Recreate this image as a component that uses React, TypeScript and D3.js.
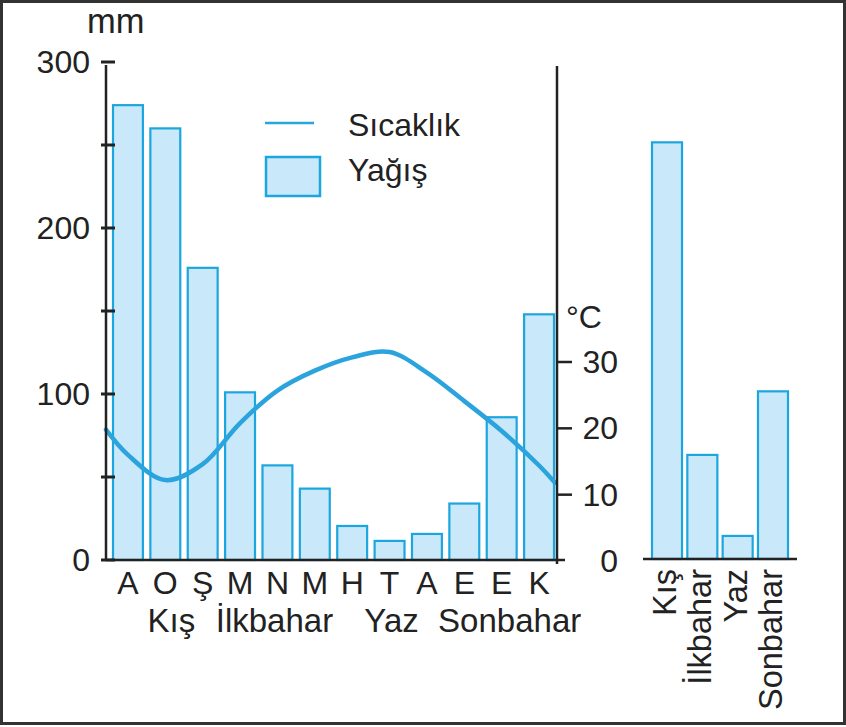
import React from "react";
import * as d3 from "d3";

// ---- data ----
const monthLabels = ["A", "O", "Ş", "M", "N", "M", "H", "T", "A", "E", "E", "K"];
const precipitation = [274, 260, 176, 101, 57, 43, 20.5, 11.5, 15.7, 34, 86, 148];
const temperature = [16.0, 12.2, 14.6, 20.8, 25.7, 28.7, 30.7, 31.5, 28.4, 24.1, 19.6, 14.4];
const tempAtLeftEdge = 19.8;
const tempAtRightEdge = 11.8;
const seasonLabels = ["Kış", "İlkbahar", "Yaz", "Sonbahar"];
const seasonGroups = [[0, 1, 2], [3, 4, 5], [6, 7, 8], [9, 10, 11]];
const seasonPrecip = [251, 62.7, 13.9, 101];
const mmTicks = [0, 100, 200, 300];
const mmMinorTicks = [50, 150, 250];
const tempTicks = [10, 20, 30];

const W = 846;
const H = 727;
const FONT = "'Liberation Sans', Arial, Helvetica, sans-serif";
const TEXT = "#222";
const BAR_FILL = "#c9e9fa";
const BAR_STROKE = "#1ca6de";
const LINE = "#2ba3dc";

export default function App() {
  const axisLeftX = 106;
  const axisRightX = 557;
  const x = d3
    .scaleBand<number>()
    .domain(d3.range(monthLabels.length))
    .range([106, 561])
    .paddingInner(0.2)
    .paddingOuter(0.187);
  const yMM = d3.scaleLinear().domain([0, 300]).range([560, 62]);
  const yT = d3.scaleLinear().domain([0, 30]).range([561, 362]);

  const xs = d3
    .scaleBand<number>()
    .domain(d3.range(seasonLabels.length))
    .range([643, 797])
    .paddingInner(0.15)
    .paddingOuter(0.255);
  const yS = d3.scaleLinear().domain([0, 300]).range([559, 61]);

  const tempPts: [number, number][] = [
    [axisLeftX, yT(tempAtLeftEdge)],
    ...temperature.map((t, i) => [x(i)! + x.bandwidth() / 2, yT(t)] as [number, number]),
    [axisRightX - 2, yT(tempAtRightEdge)],
  ];
  const linePath = d3.line().curve(d3.curveCatmullRom.alpha(0.5))(tempPts) || "";

  const seasonOffsets = [6, -3, 2, 8];

  return (
    <svg
      width={W}
      height={H}
      style={{ position: "absolute", left: 0, top: 0, background: "#fff" }}
      fontFamily={FONT}
    >
      <rect x={1.5} y={1.5} width={W - 3} height={722} fill="#fff" stroke="#333" strokeWidth={3} />

      {/* bars */}
      {precipitation.map((v, i) => (
        <rect
          key={i}
          x={x(i)!}
          y={yMM(v)}
          width={x.bandwidth()}
          height={yMM(0) - yMM(v)}
          fill={BAR_FILL}
          stroke={BAR_STROKE}
          strokeWidth={2.2}
        />
      ))}

      {/* temperature curve */}
      <path d={linePath} fill="none" stroke={LINE} strokeWidth={4.5} strokeLinecap="round" />

      {/* axes */}
      <line x1={axisLeftX} x2={axisLeftX} y1={65} y2={561} stroke={TEXT} strokeWidth={2.5} />
      <line x1={axisLeftX} x2={565} y1={560} y2={560} stroke={TEXT} strokeWidth={2.5} />
      <line x1={axisRightX} x2={axisRightX} y1={66} y2={564} stroke={TEXT} strokeWidth={2.5} />

      {[...mmTicks, ...mmMinorTicks].map((t) => (
        <line key={"mt" + t} x1={101} x2={115} y1={yMM(t)} y2={yMM(t)} stroke={TEXT} strokeWidth={3} />
      ))}
      {mmTicks.map((t) => (
        <text key={"ml" + t} x={90} y={yMM(t) + 11} textAnchor="end" fontSize={32} fill={TEXT}>
          {t}
        </text>
      ))}
      <text x={87} y={33} fontSize={34.5} fill={TEXT}>mm</text>

      {tempTicks.map((t) => (
        <line key={"tt" + t} x1={axisRightX} x2={572} y1={yT(t)} y2={yT(t)} stroke={TEXT} strokeWidth={2.5} />
      ))}
      {[0, ...tempTicks].map((t) => (
        <text key={"tl" + t} x={618} y={yT(t) + 11} textAnchor="end" fontSize={32} fill={TEXT}>
          {t}
        </text>
      ))}
      <text x={566} y={328} fontSize={32} fill={TEXT}>°C</text>

      {/* month labels */}
      {monthLabels.map((m, i) => (
        <text
          key={"m" + i}
          x={x(i)! + x.bandwidth() / 2}
          y={594}
          textAnchor="middle"
          fontSize={32}
          fill={TEXT}
        >
          {m}
        </text>
      ))}
      {seasonLabels.map((s, i) => {
        const g = seasonGroups[i];
        const cx = d3.mean(g, (j) => x(j)! + x.bandwidth() / 2)! + seasonOffsets[i];
        return (
          <text key={"s" + i} x={cx} y={632} textAnchor="middle" fontSize={33} fill={TEXT}>
            {s}
          </text>
        );
      })}

      {/* legend */}
      <line x1={265} x2={314} y1={123} y2={123} stroke={LINE} strokeWidth={2.5} />
      <text x={348} y={136} fontSize={32} fill={TEXT}>Sıcaklık</text>
      <rect x={266} y={157} width={54} height={39} fill={BAR_FILL} stroke={BAR_STROKE} strokeWidth={2.5} />
      <text x={348} y={181} fontSize={32} fill={TEXT}>Yağış</text>

      {/* right panel: seasonal precipitation */}
      {seasonPrecip.map((v, i) => (
        <rect
          key={"sp" + i}
          x={xs(i)!}
          y={yS(v)}
          width={xs.bandwidth()}
          height={yS(0) - yS(v)}
          fill={BAR_FILL}
          stroke={BAR_STROKE}
          strokeWidth={2.2}
        />
      ))}
      <line x1={643} x2={797} y1={559} y2={559} stroke={TEXT} strokeWidth={2.5} />
      {seasonLabels.map((s, i) => (
        <text
          key={"sl" + i}
          transform={`translate(${xs(i)! + xs.bandwidth() / 2 + 9},569) rotate(-90)`}
          textAnchor="end"
          fontSize={32.5}
          fill={TEXT}
        >
          {s}
        </text>
      ))}
    </svg>
  );
}
